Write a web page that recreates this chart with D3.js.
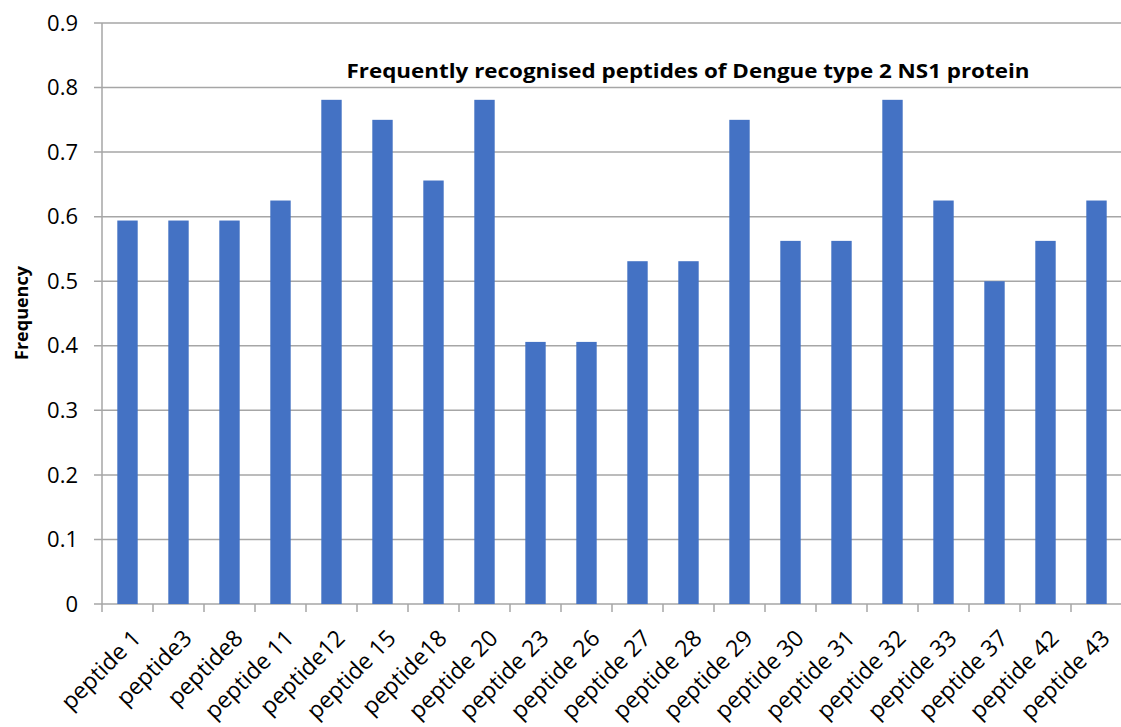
<!DOCTYPE html>
<meta charset="utf-8">
<style>
    body { margin: 0; background: #fff; }
    text { font-family: "Open Sans", "Noto Sans", sans-serif; fill: #000; }
    .grid line { stroke: #a6a6a6; stroke-width: 1.5px; }
</style>
<body>
<div id="chart"></div>
<script src="https://d3js.org/d3.v7.min.js"></script>
<script>
    var peptides = ["peptide 1", "peptide3", "peptide8", "peptide 11", "peptide12", "peptide 15",
        "peptide18", "peptide 20", "peptide 23", "peptide 26", "peptide 27", "peptide 28",
        "peptide 29", "peptide 30", "peptide 31", "peptide 32", "peptide 33", "peptide 37",
        "peptide 42", "peptide 43"];
    var frequency = [0.594, 0.594, 0.594, 0.625, 0.781, 0.75,
        0.656, 0.781, 0.406, 0.406, 0.531, 0.531,
        0.75, 0.5625, 0.5625, 0.781, 0.625, 0.5,
        0.5625, 0.625];
    var yTicks = [0, 0.1, 0.2, 0.3, 0.4, 0.5, 0.6, 0.7, 0.8, 0.9];

    var width = 1121,
        height = 727,
        plotLeft = 102,
        plotRight = 1122,
        plotTop = 23,
        plotBottom = 604;

    var svg = d3.select("#chart").append("svg")
        .attr("width", width)
        .attr("height", height);

    var x = d3.scaleBand()
        .domain(peptides)
        .range([plotLeft, plotRight])
        .paddingInner(0.6)
        .paddingOuter(0.3);

    var y = d3.scaleLinear()
        .domain([0, 0.9])
        .range([plotBottom, plotTop]);

    // gridlines
    svg.append("g")
        .attr("class", "grid")
        .selectAll("line")
        .data(yTicks)
        .enter().append("line")
        .attr("x1", plotLeft - 8)
        .attr("x2", width)
        .attr("y1", function (d) { return y(d); })
        .attr("y2", function (d) { return y(d); });

    // y tick labels
    svg.append("g")
        .selectAll("text")
        .data(yTicks)
        .enter().append("text")
        .attr("x", 78)
        .attr("y", function (d) { return y(d); })
        .attr("dy", "0.35em")
        .attr("text-anchor", "end")
        .style("font-size", "22px")
        .text(function (d) { return d === 0 ? "0" : d.toFixed(1); });

    // y axis line
    svg.append("line")
        .attr("x1", plotLeft).attr("x2", plotLeft)
        .attr("y1", plotTop).attr("y2", plotBottom)
        .attr("stroke", "#a6a6a6")
        .attr("stroke-width", 1.5);

    // bars
    svg.append("g")
        .selectAll("rect")
        .data(frequency)
        .enter().append("rect")
        .attr("x", function (d, i) { return x(peptides[i]); })
        .attr("y", function (d) { return y(d); })
        .attr("width", x.bandwidth())
        .attr("height", function (d) { return plotBottom - y(d); })
        .attr("fill", "#4472c4");

    // x tick marks at band edges
    var edges = d3.range(peptides.length + 1).map(function (i) {
        return plotLeft + i * (plotRight - plotLeft) / peptides.length;
    });
    svg.append("g")
        .selectAll("line")
        .data(edges)
        .enter().append("line")
        .attr("x1", function (d) { return d; })
        .attr("x2", function (d) { return d; })
        .attr("y1", plotBottom)
        .attr("y2", plotBottom + 8)
        .attr("stroke", "#a6a6a6")
        .attr("stroke-width", 1.5);

    // x labels
    svg.append("g")
        .selectAll("text")
        .data(peptides)
        .enter().append("text")
        .attr("transform", function (d) {
            return "translate(" + (x(d) + x.bandwidth() / 2 + 9) + "," + (plotBottom + 30) + ") rotate(-45)";
        })
        .attr("text-anchor", "end")
        .attr("dy", "0.35em")
        .style("font-size", "23px")
        .text(function (d) { return d; });

    // title
    svg.append("text")
        .attr("x", 688)
        .attr("y", 78)
        .attr("text-anchor", "middle")
        .style("font-size", "19px")
        .style("font-weight", "bold")
        .attr("textLength", 683)
        .attr("lengthAdjust", "spacingAndGlyphs")
        .text("Frequently recognised peptides of Dengue type 2 NS1 protein");

    // y axis title
    svg.append("text")
        .attr("transform", "translate(28,313) rotate(-90)")
        .attr("text-anchor", "middle")
        .style("font-size", "18px")
        .style("font-weight", "bold")
        .text("Frequency");
</script>
